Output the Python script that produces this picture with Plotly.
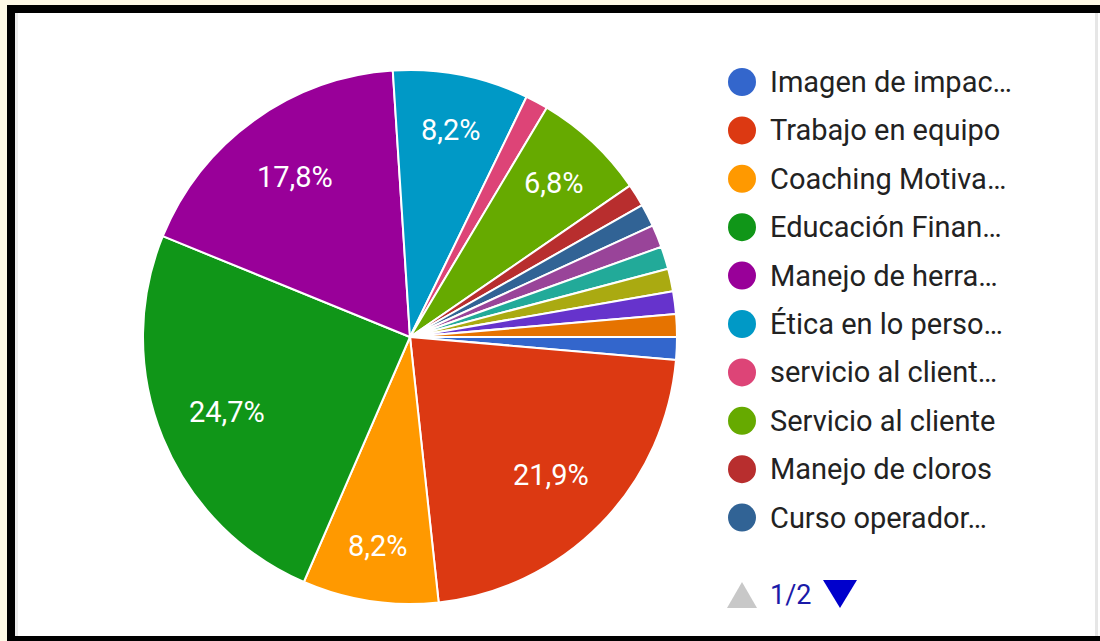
import math
import plotly.graph_objects as go

W, H = 1100, 641

labels = [
    "Imagen de impac…", "Trabajo en equipo", "Coaching Motiva…", "Educación Finan…",
    "Manejo de herra…", "Ética en lo perso…", "servicio al client…", "Servicio al cliente",
    "Manejo de cloros", "Curso operador…", "Curso 11", "Curso 12", "Curso 13",
    "Curso 14", "Curso 15",
]
responses = [1, 16, 6, 18, 13, 6, 1, 5, 1, 1, 1, 1, 1, 1, 1]
colors = [
    "#3366cc", "#dc3912", "#ff9900", "#109618", "#990099", "#0099c6", "#dd4477",
    "#66aa00", "#b82e2e", "#316395", "#994499", "#22aa99", "#aaaa11", "#6633cc",
    "#e67300",
]
legend_page_size = 10
page_text = "1/2"

total = sum(responses)
ROTATION = 90  # first slice starts at 3 o'clock, going clockwise

# pie placement in pixels
PIE_L, PIE_R, PIE_T, PIE_B = 143, 677, 70, 604


def px(x):
    return x / W


def py(y):
    return 1 - y / H


fig = go.Figure()
fig.add_trace(go.Pie(
    labels=labels,
    values=responses,
    sort=False,
    direction="clockwise",
    rotation=ROTATION,
    marker=dict(colors=colors, line=dict(color="white", width=2)),
    textinfo="none",
    domain=dict(x=[px(PIE_L), px(PIE_R)], y=[py(PIE_B), py(PIE_T)]),
    showlegend=False,
    hoverinfo="label+percent",
))

shapes = []
annotations = []

# percentage labels, positioned from the cumulative shares (Google-style placement)
cx, cy = (PIE_L + PIE_R) / 2, (PIE_T + PIE_B) / 2
R = (PIE_R - PIE_L) / 2
cum = 0
for v in responses:
    share = v / total
    mid = cum + share / 2
    cum += share
    if share < 0.05:
        continue
    theta = math.radians(ROTATION - 90 + 360 * mid)
    rf = 0.74 if share > 0.15 else 0.79
    x = cx + rf * R * math.cos(theta)
    y = cy + rf * R * math.sin(theta)
    txt = f"{share * 100:.1f}".replace(".", ",") + "%"
    annotations.append(dict(text=txt, x=px(x), y=py(y), xref="paper", yref="paper",
                            xanchor="center", yanchor="middle", showarrow=False,
                            font=dict(family="Roboto", size=29, color="white")))

# background frame
shapes.append(dict(type="rect", xref="paper", yref="paper", x0=0, x1=1, y0=py(5), y1=1,
                   fillcolor="#fef9e6", line_width=0, layer="below"))
shapes.append(dict(type="rect", xref="paper", yref="paper", x0=0, x1=px(7), y0=0, y1=1,
                   fillcolor="#fef9e6", line_width=0, layer="below"))
shapes.append(dict(type="rect", xref="paper", yref="paper", x0=px(7), x1=1, y0=py(13), y1=py(5),
                   fillcolor="black", line_width=0))
shapes.append(dict(type="rect", xref="paper", yref="paper", x0=px(7), x1=px(15), y0=0, y1=py(5),
                   fillcolor="black", line_width=0))
shapes.append(dict(type="rect", xref="paper", yref="paper", x0=px(7), x1=1, y0=0, y1=py(636),
                   fillcolor="black", line_width=0))
shapes.append(dict(type="rect", xref="paper", yref="paper", x0=px(15), x1=px(18), y0=py(636), y1=py(13),
                   fillcolor="#ececec", line_width=0, layer="below"))
shapes.append(dict(type="rect", xref="paper", yref="paper", x0=px(1095), x1=px(1098), y0=py(636), y1=py(13),
                   fillcolor="#e6e6e6", line_width=0, layer="below"))

# custom legend (page 1)
row0, step = 82, 48.4
for i in range(legend_page_size):
    yc = row0 + i * step
    shapes.append(dict(type="circle", xref="paper", yref="paper",
                       x0=px(728), x1=px(756), y0=py(yc + 14), y1=py(yc - 14),
                       fillcolor=colors[i], line_width=0))
    annotations.append(dict(text=labels[i], x=px(768), y=py(yc), xref="paper", yref="paper",
                            xanchor="left", yanchor="middle", showarrow=False,
                            font=dict(family="Roboto", size=29, color="#222222")))

# paging control
shapes.append(dict(type="path", xref="paper", yref="paper",
                   path=f"M {px(727)} {py(608)} L {px(757)} {py(608)} L {px(742)} {py(582)} Z",
                   fillcolor="#c8c8c8", line_width=0))
shapes.append(dict(type="path", xref="paper", yref="paper",
                   path=f"M {px(823)} {py(580)} L {px(857)} {py(580)} L {px(840)} {py(608)} Z",
                   fillcolor="#0000cc", line_width=0))
annotations.append(dict(text=page_text, x=px(768), y=py(595), xref="paper", yref="paper",
                        xanchor="left", yanchor="middle", showarrow=False,
                        font=dict(family="Roboto", size=27, color="#1a1aa8")))

fig.update_layout(
    width=W, height=H,
    margin=dict(l=0, r=0, t=0, b=0),
    paper_bgcolor="white",
    plot_bgcolor="white",
    separators=",.",
    shapes=shapes,
    annotations=annotations,
)

fig.write_html("out.html")
